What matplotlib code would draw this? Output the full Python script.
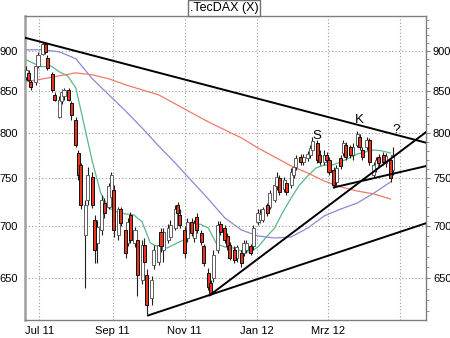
import numpy as np
import pandas as pd
import matplotlib
matplotlib.use("Agg")
import matplotlib.pyplot as plt
import matplotlib.dates as mdates
from matplotlib.ticker import FixedLocator, FixedFormatter, NullFormatter

# ---- Kerzen (jeder 2. Handelstag) ----
candle_dates = pd.bdate_range("2011-06-20", periods=112, freq="2B")
opens = [867, 872, 861, 861, 881, 896, 909, 891, 870, 845,
         819, 837, 844, 851, 835, 815, 777, 764, 691, 727,
         751, 706, 683, 696, 724, 720, 730, 737, 691, 717,
         696, 683, 711, 683, 686, 648, 681, 653, 632, 662,
         665, 694, 677, 686, 689, 698, 722, 711, 696, 688,
         704, 688, 709, 693, 680, 655, 645, 650, 677, 702,
         698, 690, 681, 677, 669, 674, 674, 677, 680, 680,
         704, 706, 706, 722, 720, 727, 741, 750, 738, 745,
         743, 753, 762, 773, 768, 772, 775, 781, 789, 775,
         768, 775, 770, 759, 746, 772, 777, 786, 784, 775,
         786, 796, 781, 784, 792, 753, 761, 773, 775, 766,
         770, 759]
highs = [880, 875, 863, 882, 899, 912, 912, 895, 873, 849,
         843, 852, 853, 853, 838, 819, 781, 766, 727, 762,
         757, 711, 706, 732, 729, 745, 757, 743, 720, 720,
         699, 708, 714, 699, 694, 686, 688, 658, 652, 681,
         686, 698, 698, 702, 706, 722, 725, 717, 700, 708,
         708, 706, 713, 696, 682, 659, 648, 677, 705, 705,
         701, 693, 684, 680, 681, 677, 686, 686, 682, 701,
         717, 717, 720, 724, 737, 746, 756, 753, 751, 748,
         761, 765, 775, 776, 776, 780, 786, 796, 792, 781,
         781, 779, 773, 762, 764, 775, 792, 790, 786, 789,
         802, 799, 784, 796, 794, 768, 773, 776, 779, 777,
         773, 784]
lows = [863, 861, 851, 857, 878, 894, 896, 876, 849, 837,
        817, 834, 839, 837, 815, 784, 748, 717, 641, 722,
        719, 664, 664, 691, 708, 717, 727, 689, 686, 700,
        669, 680, 683, 679, 633, 644, 661, 617, 625, 658,
        662, 675, 665, 683, 686, 696, 710, 698, 669, 684,
        690, 684, 693, 681, 661, 639, 634, 646, 674, 691,
        683, 677, 667, 664, 665, 660, 671, 674, 672, 677,
        701, 703, 704, 710, 717, 725, 737, 732, 735, 732,
        739, 750, 759, 764, 764, 769, 772, 779, 766, 764,
        764, 766, 753, 739, 743, 760, 774, 770, 772, 770,
        784, 781, 770, 781, 764, 750, 757, 763, 764, 762,
        746, 753]
closes = [876, 863, 855, 880, 895, 909, 899, 878, 851, 839,
          839, 849, 851, 839, 821, 786, 753, 722, 722, 753,
          722, 677, 699, 727, 713, 741, 753, 696, 717, 703,
          674, 704, 686, 696, 653, 681, 665, 625, 648, 677,
          681, 680, 694, 698, 701, 717, 713, 701, 674, 704,
          693, 703, 696, 684, 664, 642, 636, 672, 701, 694,
          686, 680, 669, 667, 679, 664, 683, 683, 674, 698,
          713, 712, 717, 713, 734, 743, 751, 735, 748, 735,
          757, 762, 772, 768, 773, 776, 783, 791, 770, 768,
          775, 770, 757, 743, 761, 763, 789, 773, 775, 784,
          799, 784, 773, 792, 768, 764, 770, 766, 768, 774,
          750, 775]

# ---- gleitende Durchschnitte ----
ma_fast_dates = pd.date_range("2011-06-20", periods=45, freq="7D")
ma_fast = [888.5, 883.4, 879.6, 880.8, 873.3, 868.3, 853.4, 809.3, 767.5, 734.1,
           718.5, 714.4, 712.4, 711.4, 704.3, 683.3, 679.5, 678.5, 682.4, 686.3,
           698.2, 702.2, 698.2, 682.4, 679.5, 678.5, 675.6, 674.6, 679.5, 689.3,
           698.2, 714.4, 728.9, 742.6, 752.2, 760.9, 764.2, 764.2, 767.5, 771.9,
           776.3, 778.6, 780.8, 779.7, 777.4]
ma_slow_dates = pd.date_range("2011-06-20", periods=23, freq="14D")
ma_mid = [901.3, 901.3, 898.7, 889.8, 864.5, 844.9, 825.7, 805.8, 785.3, 766.4,
          746.8, 727.8, 708.3, 696.2, 690.3, 688.3, 689.3, 698.2, 710.4, 717.5,
          723.7, 734.1, 745.8]
ma_long = [860.9, 864.5, 868.3, 872.0, 869.5, 864.5, 857.2, 851.0, 844.9, 834.1,
           823.4, 812.8, 803.5, 794.4, 783.0, 773.0, 763.1, 755.5, 746.8, 740.5,
           736.2, 733.1, 727.8]

# ---- Trendlinien ----
upper_dates = ["2011-06-19", "2012-05-23"]
upper_vals = [917, 789]
lower_dates = ["2011-10-01", "2012-05-23"]
lower_vals = [616, 703]
steep_dates = ["2011-11-22", "2012-05-23"]
steep_vals = [634, 801]
short_dates = ["2012-03-06", "2012-05-23"]
short_vals = [740, 763]

# ---- Markierungen ----
marks = ["S", "K", "?"]
mark_dates = ["2012-02-21", "2012-03-28", "2012-04-28"]
mark_vals = [797, 815, 804]

month_ticks = ["2011-07-01", "2011-09-01", "2011-11-01", "2012-01-01", "2012-03-01", "2012-05-01"]
month_labels = ["Jul 11", "Sep 11", "Nov 11", "Jan 12", "Mrz 12", ""]
y_ticks = [650, 700, 750, 800, 850, 900]

plt.rcParams["font.family"] = ["Liberation Sans", "DejaVu Sans"]

fig = plt.figure(figsize=(4.5, 3.38), dpi=100)
ax = fig.add_axes([25 / 450, 18 / 338, 401 / 450, 304 / 338])
ax.set_yscale("log")

x = mdates.date2num(candle_dates)
o = np.array(opens, float)
h = np.array(highs, float)
l = np.array(lows, float)
c = np.array(closes, float)
up = c >= o

ax.vlines(x, l, h, color="#202020", lw=0.8, zorder=3)
body_lo = np.minimum(o, c)
body_h = np.maximum(np.abs(c - o), 0.6)
ax.bar(x[up], body_h[up], bottom=body_lo[up], width=2.6,
       color="white", edgecolor="#606060", lw=0.7, zorder=4)
ax.bar(x[~up], body_h[~up], bottom=body_lo[~up], width=2.6,
       color="#e8341c", edgecolor="#101010", lw=0.7, zorder=4)

ax.plot(ma_fast_dates, ma_fast, color="#5cb887", lw=0.9, zorder=2)
ax.plot(ma_slow_dates, ma_mid, color="#8a8ad6", lw=0.9, zorder=2)
ax.plot(ma_slow_dates, ma_long, color="#f07a6a", lw=0.9, zorder=2)

for dts, vals in [(upper_dates, upper_vals), (lower_dates, lower_vals),
                  (steep_dates, steep_vals), (short_dates, short_vals)]:
    ax.plot(pd.to_datetime(dts), vals, color="black", lw=1.4, zorder=5)

for txt, d, v in zip(marks, mark_dates, mark_vals):
    ax.text(pd.Timestamp(d), v, txt, ha="center", va="center", fontsize=9.5, zorder=6)

ax.set_xlim(pd.Timestamp("2011-06-19"), pd.Timestamp("2012-05-23"))
ax.set_ylim(612, 946)

ax.xaxis.set_major_locator(FixedLocator(mdates.date2num(pd.to_datetime(month_ticks))))
ax.xaxis.set_major_formatter(FixedFormatter(month_labels))
ax.yaxis.set_major_locator(FixedLocator(y_ticks))
ax.yaxis.set_major_formatter(FixedFormatter([str(t) for t in y_ticks]))
ax.yaxis.set_minor_locator(FixedLocator(list(range(620, 950, 10))))
ax.yaxis.set_minor_formatter(NullFormatter())

ax.tick_params(axis="x", length=0, labelsize=8, pad=4)
ax.tick_params(axis="y", which="major", labelsize=8, left=False, right=True,
               labelleft=True, labelright=True, length=3, pad=2, color="#808080")
ax.tick_params(axis="y", which="minor", left=False, right=True, length=2, color="#808080")

ax.grid(True, which="major", linestyle=(0, (1, 2)), color="#9a9a9a", lw=0.8)

for s in ax.spines.values():
    s.set_color("#808080")
    s.set_linewidth(1.0)
ax.spines["left"].set_linewidth(1.8)
ax.spines["left"].set_color("#a0a0a0")

fig.text(224 / 450, 1 - 8 / 338, ".TecDAX (X)", ha="center", va="center", fontsize=9,
         bbox=dict(boxstyle="square,pad=0.15", fc="white", ec="#707070", lw=1.0))

plt.savefig("out.png", dpi=100)
plt.close()
